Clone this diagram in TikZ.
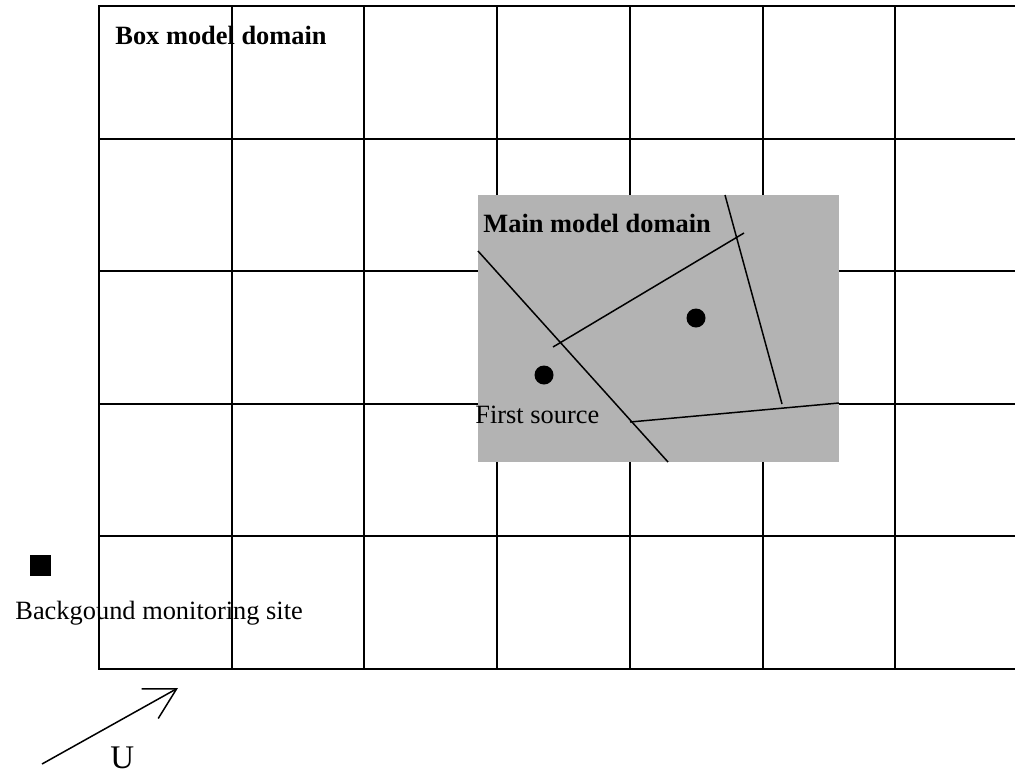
\documentclass[tikz,border=0pt]{standalone}
\usepackage{fontspec}
\setmainfont{Liberation Serif}
\usetikzlibrary{arrows.meta}
\definecolor{maindomaingrey}{RGB}{179,179,179}
\newcommand{\lbl}{\fontsize{13.2}{15}\selectfont}

\begin{document}
\begin{tikzpicture}[x=0.5pt,y=-0.5pt,
  gridline/.style={line width=1pt},
  cellline/.style={line width=0.75pt},
  tag/.style={anchor=base west,inner sep=0pt,font=\lbl}]
\useasboundingbox (0,0) rectangle (1015,777);
\clip (0,0) rectangle (1015,777);

% box model grid
\draw[gridline] (99,6) rectangle (1028.6,669);
\foreach \y in {138.6,271.2,403.8,536.4} \draw[gridline] (99,\y) -- (1028.6,\y);
\foreach \x in {231.7,364.4,497.1,629.8,762.5,895.2} \draw[gridline] (\x,6) -- (\x,669);
\node[tag,font=\lbl\bfseries] (boxlabel) at (115,44) {Box model domain};

% main model domain
\fill[maindomaingrey] (478,195) rectangle (839,462);
\draw[cellline] (478,251) -- (668,462);
\draw[cellline] (553,347) -- (744,233);
\draw[cellline] (725,195) -- (782,404);
\draw[cellline] (630,422) -- (839,403);
\fill (696,318) circle (9.5);
\fill (544,375) circle (9.5);
\node[tag,font=\lbl\bfseries] (mainlabel) at (483,232) {Main model domain};
\node[tag] (sourcelabel) at (475,423) {First source};

% monitoring site
\node[fill=black,minimum size=10.5pt,inner sep=0pt] (site) at (40.5,565.5) {};
\node[tag] (sitelabel) at (15,619) {Backgound monitoring site};

% wind
\coordinate (windtail) at (42,764);
\coordinate (windtip) at (178,688);
\draw[cellline,-{Straight Barb[angle=58:17.5pt]}] (windtail) -- (windtip);
\node[tag,font=\fontsize{16.5}{19}\selectfont] (windlabel) at (110,768) {U};

\end{tikzpicture}
\end{document}
